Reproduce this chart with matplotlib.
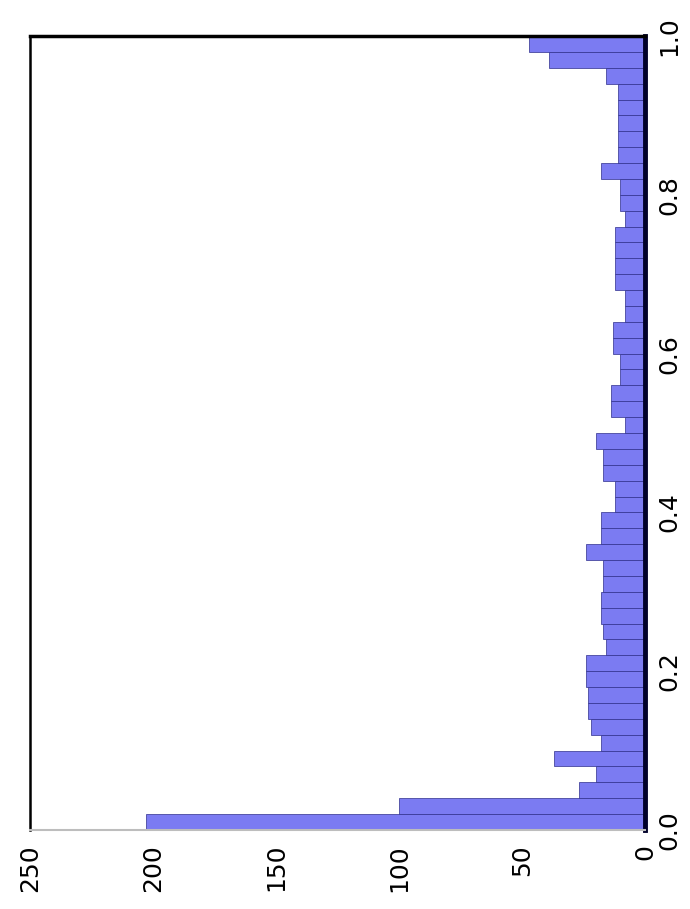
import numpy as np
import matplotlib
matplotlib.use("Agg")
import matplotlib.pyplot as plt

# Histogram of values in [0, 1], 50 bins of width 0.02
bin_width = 0.02
counts = [203, 100, 27, 20, 37, 18, 22, 23, 23, 24,
          24, 16, 17, 18, 18, 17, 17, 24, 18, 18,
          12, 12, 17, 17, 20, 8, 14, 14, 10, 10,
          13, 13, 8, 8, 12, 12, 12, 12, 8, 10,
          10, 18, 11, 11, 11, 11, 11, 16, 39, 47]
bin_starts = np.arange(len(counts)) * bin_width

count_ticks = [0, 50, 100, 150, 200, 250]
value_ticks = [0.0, 0.2, 0.4, 0.6, 0.8, 1.0]
value_labels = ["0.0", "0.2", "0.4", "0.6", "0.8", "1.0"]

fig = plt.figure(figsize=(6.9, 9.09), dpi=100)
ax = fig.add_axes([30 / 690, 1 - 830 / 909, 615 / 690, 794 / 909])

ax.barh(bin_starts, counts, height=bin_width, align="edge",
        color="#7b7bf2", edgecolor="#2e2e8c", linewidth=0.5)

ax.set_xlim(250, 0)
ax.set_ylim(0, 1)

ax.set_xticks(count_ticks)
ax.set_xticklabels([str(c) for c in count_ticks], rotation=90,
                   fontsize=18, family="DejaVu Sans")
ax.yaxis.tick_right()
ax.set_yticks(value_ticks)
ax.set_yticklabels(value_labels, rotation=90, va="center",
                   fontsize=18, family="DejaVu Sans")
ax.tick_params(axis="x", length=0, pad=10)
ax.tick_params(axis="y", length=0, pad=9)

ax.spines["top"].set_linewidth(2.5)
ax.spines["top"].set_color("black")
ax.spines["right"].set_linewidth(3.5)
ax.spines["right"].set_color("#00002a")
ax.spines["left"].set_linewidth(1.8)
ax.spines["left"].set_color("black")
ax.spines["bottom"].set_linewidth(1.5)
ax.spines["bottom"].set_color("#bdbdbd")

fig.savefig("out.png", dpi=100)
